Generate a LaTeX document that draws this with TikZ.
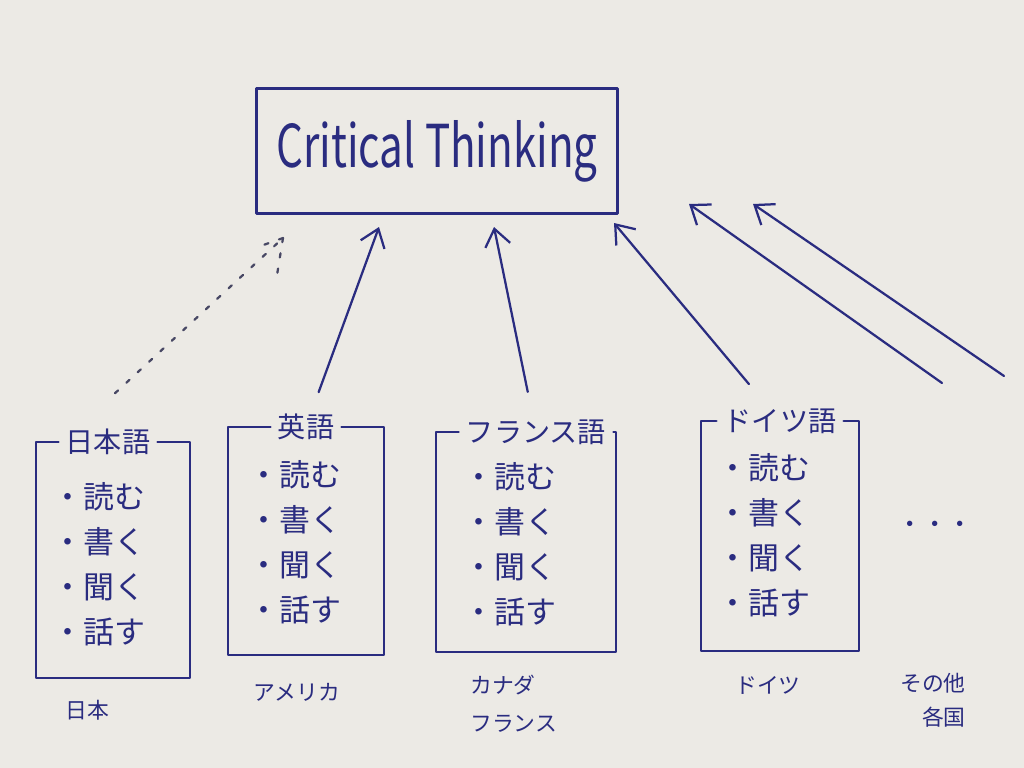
\documentclass[tikz,border=0pt]{standalone}
\usepackage{fontspec}
\setmainfont{Noto Sans CJK JP}
\usetikzlibrary{arrows.meta}
\definecolor{ink}{RGB}{42,44,128}
\definecolor{paper}{RGB}{236,234,229}
\definecolor{pencil}{RGB}{72,72,100}
\begin{document}
\begin{tikzpicture}
		[x=0.025cm, y=-0.025cm,
			lineDecorate/.style={ink,line width=1.6pt,line join=round,line cap=round},
			arrowDecorate/.style={lineDecorate,-{Straight Barb[length=12pt,width=18pt,line width=1.6pt]}},
			dashDecorate/.style={pencil,line width=1.6pt,dash pattern=on 3pt off 8pt,line cap=round},
			boxDecorate/.style={shape=rectangle,inner sep=0pt},
			titleDecorate/.style={ink,inner xsep=5pt,inner ysep=2pt,font=\fontsize{20}{22}\selectfont},
			itemDecorate/.style={ink,inner sep=0pt,anchor=west,font=\fontsize{22}{26}\selectfont},
			labelDecorate/.style={ink,inner sep=0pt,font=\fontsize{15.5}{26}\selectfont}]
		\fill[paper] (0,0) rectangle (1024,768);
		\useasboundingbox (0,0) rectangle (1024,768);
		\node (ct) at (437,151) [draw,lineDecorate,minimum width=9.025cm,minimum height=3.125cm,
			font=\fontsize{30}{34}\selectfont] {\scalebox{1}[1.4]{Critical Thinking}};
		\foreach \boxname/\x/\y/\w/\h/\tx/\heading/\itemx/\itemy in {
				jp/113/560/154/235/-5/日本語/52/497, en/306/541/156/228/0/英語/248/475,
				fr/526/542/179/219/10/フランス語/463/477, de/780/536/158/229/0/ドイツ語/717/468}
			{
				\node (\boxname) at (\x,\y) [boxDecorate,minimum width=\w*0.025cm,minimum height=\h*0.025cm] {};
				\node (\boxname-t) at ([xshift=\tx*0.025cm]\boxname.north) [titleDecorate] {\heading};
				\draw[lineDecorate] (\boxname-t.west) -- (\boxname.north west) -- (\boxname.south west)
					-- (\boxname.south east) -- (\boxname.north east) -- (\boxname-t.east);
				\foreach \n/\skill in {1/読む, 2/書く, 3/聞く, 4/話す}
					\node (\boxname-\n) at (\itemx,{\itemy+45*(\n-1)}) [itemDecorate] {・\skill};
			}
		% countries
		\node (jp-l) at (87,710) [labelDecorate] {日本};
		\node (en-l) at (297,692) [labelDecorate] {アメリカ};
		\node (fr-l) at (470,704) [labelDecorate,anchor=west,align=left,font=\fontsize{15.5}{27}\selectfont] {カナダ\\フランス};
		\node (de-l) at (768,685) [labelDecorate] {ドイツ};
		\node (etc-l) at (966,700) [labelDecorate,anchor=east,align=right,font=\fontsize{15.5}{24}\selectfont] {その他\\各国};
		\node (etc) at (935,527) [labelDecorate,font=\fontsize{18}{20}\selectfont] {・・・};
		% arrow ends
		\coordinate (jp-tip) at (283,238);
		\coordinate (en-tip) at (379,227);
		\coordinate (fr-tip) at (494,227);
		\coordinate (de-tip) at (614,223);
		\coordinate (etcA-tip) at (689,204);
		\coordinate (etcB-tip) at (753,204);
		\coordinate (etcA-tail) at (942,383);
		\coordinate (etcB-tail) at (1004,376);
		\foreach \boxname/\gap in {en/14pt, fr/18pt, de/20pt}
			\draw[arrowDecorate,shorten <=\gap] (\boxname-t) -- (\boxname-tip);
		\foreach \startnode/\endnode in {etcA-tail/etcA-tip, etcB-tail/etcB-tip}
			\draw[arrowDecorate] (\startnode) -- (\endnode);
		\draw[dashDecorate] ([shift={(7,-33)}]jp-t.north) -- (jp-tip);
		\draw[dashDecorate] (jp-tip) -- ++(-28,10);
		\draw[dashDecorate] (jp-tip) -- ++(-6,37);
	\end{tikzpicture}
\end{document}
